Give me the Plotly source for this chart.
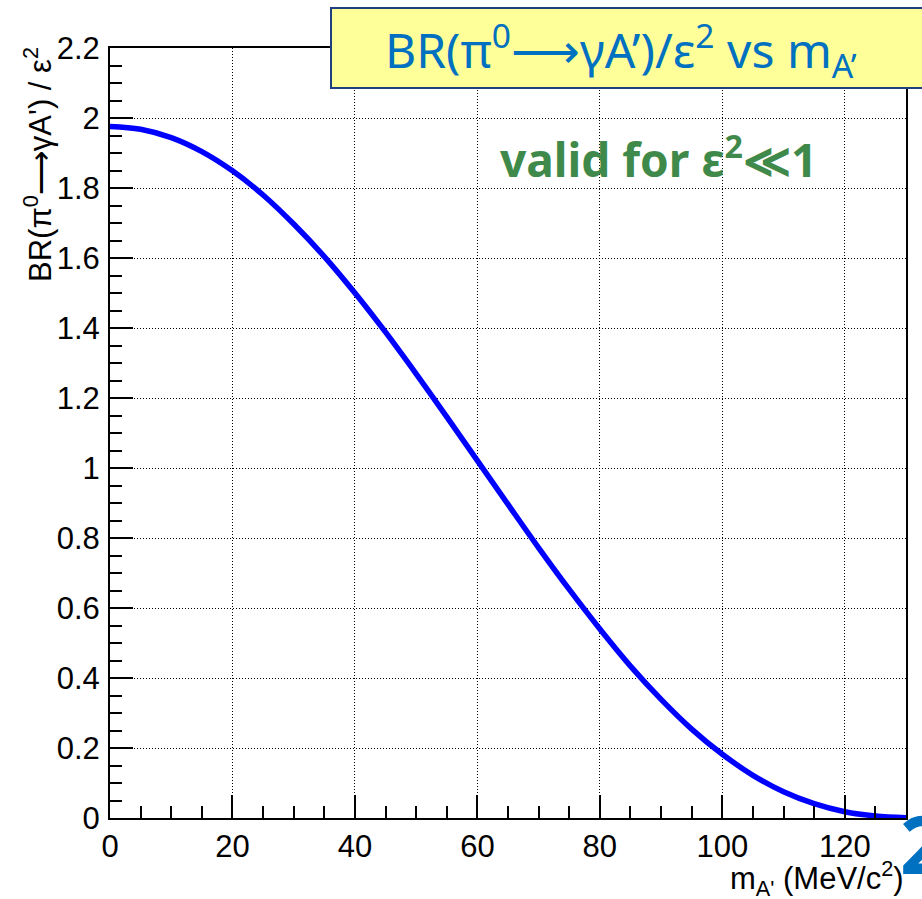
import plotly.graph_objects as go

# Data
mass_mev = [0, 5, 10, 15, 20, 25, 30, 35, 40, 45, 50, 55, 60, 65,
            70, 75, 80, 85, 90, 95, 100, 105, 110, 115, 120, 125, 130]
br_over_eps2 = [1.976, 1.968, 1.944, 1.904, 1.849, 1.780, 1.697, 1.604, 1.500,
                1.388, 1.269, 1.146, 1.021, 0.896, 0.772, 0.653, 0.540, 0.434,
                0.339, 0.254, 0.182, 0.122, 0.075, 0.041, 0.018, 0.006, 0.001]

x_tick_vals = [0, 20, 40, 60, 80, 100, 120]
x_tick_text = ["0", "20", "40", "60", "80", "100", "120"]
y_tick_vals = [0, 0.2, 0.4, 0.6, 0.8, 1.0, 1.2, 1.4, 1.6, 1.8, 2.0, 2.2]
y_tick_text = ["0", "0.2", "0.4", "0.6", "0.8", "1", "1.2", "1.4", "1.6", "1.8", "2", "2.2"]

W, H = 922, 899
L, R, T, B = 110, 16, 48, 81
PW, PH = W - L - R, H - T - B


def px(xp):
    return (xp - L) / PW


def py(yp):
    return (H - B - yp) / PH


fig = go.Figure()
fig.add_trace(go.Scatter(
    x=mass_mev, y=br_over_eps2, mode="lines",
    line=dict(color="#0000FF", width=5.5, shape="spline"),
    showlegend=False, hoverinfo="skip"))

axis_font = dict(family="Liberation Sans, Arial, sans-serif", size=31, color="black")

fig.update_xaxes(
    range=[0, 130], tickvals=x_tick_vals, ticktext=x_tick_text,
    showline=True, linecolor="black", linewidth=2, mirror=True,
    ticks="inside", ticklen=23, tickwidth=1.5, tickcolor="black",
    minor=dict(dtick=5, ticks="inside", ticklen=12, tickwidth=1.5, tickcolor="black", showgrid=False),
    showgrid=True, gridcolor="black", gridwidth=1, griddash="1px,2px",
    zeroline=False, tickfont=axis_font, ticklabelstandoff=0)
fig.update_yaxes(
    range=[0, 2.2], tickvals=y_tick_vals, ticktext=y_tick_text,
    showline=True, linecolor="black", linewidth=2, mirror=True,
    ticks="inside", ticklen=23, tickwidth=1.5, tickcolor="black",
    minor=dict(dtick=0.05, ticks="inside", ticklen=12, tickwidth=1.5, tickcolor="black", showgrid=False),
    showgrid=True, gridcolor="black", gridwidth=1, griddash="1px,2px",
    zeroline=False, tickfont=axis_font, ticklabelstandoff=2)

# Title box
fig.add_shape(type="rect", xref="paper", yref="paper",
              x0=px(331), x1=px(930), y0=py(88), y1=py(8),
              fillcolor="#FFFF99", line=dict(color="#1F3F7F", width=2), layer="above")

annotations = [
    dict(text="BR(π<sup>0</sup>⟶γA’)/ε<sup>2</sup> vs m<sub>A’</sub>",
         x=px(621), y=py(50), font=dict(family="Noto Sans, sans-serif", size=48, color="#0070C0")),
    dict(text="<b>valid for ε<sup>2</sup>≪1</b>",
         x=px(658), y=py(157), font=dict(family="Noto Sans, sans-serif", size=46, color="#3F8A4A")),
    dict(text="BR(π<sup>0</sup>⟶γA') / ε<sup>2</sup>", textangle=-90,
         x=px(38), y=py(165), font=axis_font),
    dict(text="m<sub>A'</sub> (MeV/c<sup>2</sup>)", xanchor="right",
         x=px(906), y=py(878), font=axis_font),
    dict(text="<b>2</b>", xanchor="left",
         x=px(898), y=py(842), font=dict(family="Noto Sans, sans-serif", size=80, color="#0070C0")),
]
for a in annotations:
    a.setdefault("xanchor", "center")
    a.setdefault("yanchor", "middle")
    fig.add_annotation(xref="paper", yref="paper", showarrow=False, **a)

fig.update_layout(
    width=W, height=H,
    margin=dict(l=L, r=R, t=T, b=B),
    paper_bgcolor="white", plot_bgcolor="white")

fig.write_html("out.html", config={"displayModeBar": False},
               post_script="document.body.style.margin='0px';")
